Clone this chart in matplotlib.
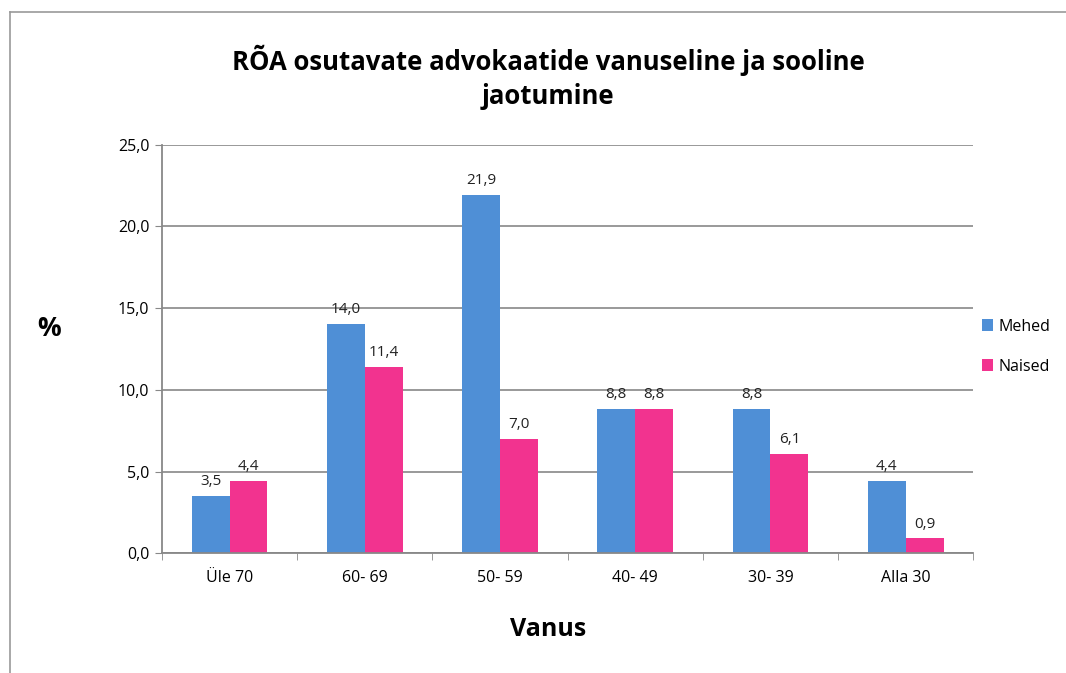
"""RÕA osutavate advokaatide vanuseline ja sooline jaotumine."""
import matplotlib
matplotlib.use("Agg")
import matplotlib.pyplot as plt
import numpy as np
from matplotlib.lines import Line2D

categories = ["Üle 70", "60- 69", "50- 59", "40- 49", "30- 39", "Alla 30"]
mehed = [3.5, 14.0, 21.9, 8.8, 8.8, 4.4]
naised = [4.4, 11.4, 7.0, 8.8, 6.1, 0.9]

plt.rcParams["font.family"] = ["Open Sans", "DejaVu Sans"]

fig = plt.figure(figsize=(10.66, 6.73), dpi=100)
ax = fig.add_axes([0.152, 0.178, 0.761, 0.607])

x = np.arange(len(categories))
w = 0.28
b1 = ax.bar(x - w / 2, mehed, w, color="#4F8FD6", label="Mehed")
b2 = ax.bar(x + w / 2, naised, w, color="#F2338F", label="Naised")

def fmt(v):
    return f"{v:.1f}".replace(".", ",")

for bars, vals in ((b1, mehed), (b2, naised)):
    for rect, v in zip(bars, vals):
        ax.annotate(fmt(v), (rect.get_x() + rect.get_width() / 2, v),
                    xytext=(0, 5), textcoords="offset points",
                    ha="center", va="bottom", fontsize=11, color="#222222")

ax.set_xlim(-0.5, len(categories) - 0.5)
ax.set_ylim(0, 25)
ax.set_yticks(np.arange(0, 25.1, 5))
ax.set_yticklabels([fmt(v) for v in np.arange(0, 25.1, 5)], fontsize=11.5)
ax.set_xticks(x)
ax.set_xticklabels(categories, fontsize=11.5)
ax.set_xticks(np.arange(-0.5, len(categories)), minor=True)
ax.tick_params(axis="x", which="major", length=0, pad=12)
ax.tick_params(axis="x", which="minor", length=5, color="#888888")
ax.tick_params(axis="y", length=5, color="#888888", pad=4)

ax.grid(axis="y", color="#888888", linewidth=1.2)
ax.set_axisbelow(True)
for s in ("top", "right"):
    ax.spines[s].set_visible(False)
for s in ("left", "bottom"):
    ax.spines[s].set_color("#888888")
    ax.spines[s].set_linewidth(1.3)

fig.text(0.514, 0.911, "RÕA osutavate advokaatide vanuseline ja sooline",
         ha="center", va="center", fontsize=18.5, fontweight="bold")
fig.text(0.514, 0.856, "jaotumine", ha="center", va="center",
         fontsize=18.5, fontweight="bold")
fig.text(0.046, 0.512, "%", ha="center", va="center", fontsize=19,
         fontweight="bold")
fig.text(0.514, 0.064, "Vanus", ha="center", va="center", fontsize=18,
         fontweight="bold")

fig.legend(handles=[b1, b2], loc="center left", bbox_to_anchor=(0.908, 0.485),
           frameon=False, fontsize=11.5, handlelength=0.7, handleheight=0.7,
           handletextpad=0.3, labelspacing=1.5)

# outer chart border
fig.add_artist(Line2D([10 / 1066, 1], [1 - 12 / 673] * 2, color="#999999",
                      linewidth=1.2, transform=fig.transFigure))
fig.add_artist(Line2D([10 / 1066] * 2, [0, 1 - 12 / 673], color="#999999",
                      linewidth=1.2, transform=fig.transFigure))

fig.savefig("out.png", dpi=100)
